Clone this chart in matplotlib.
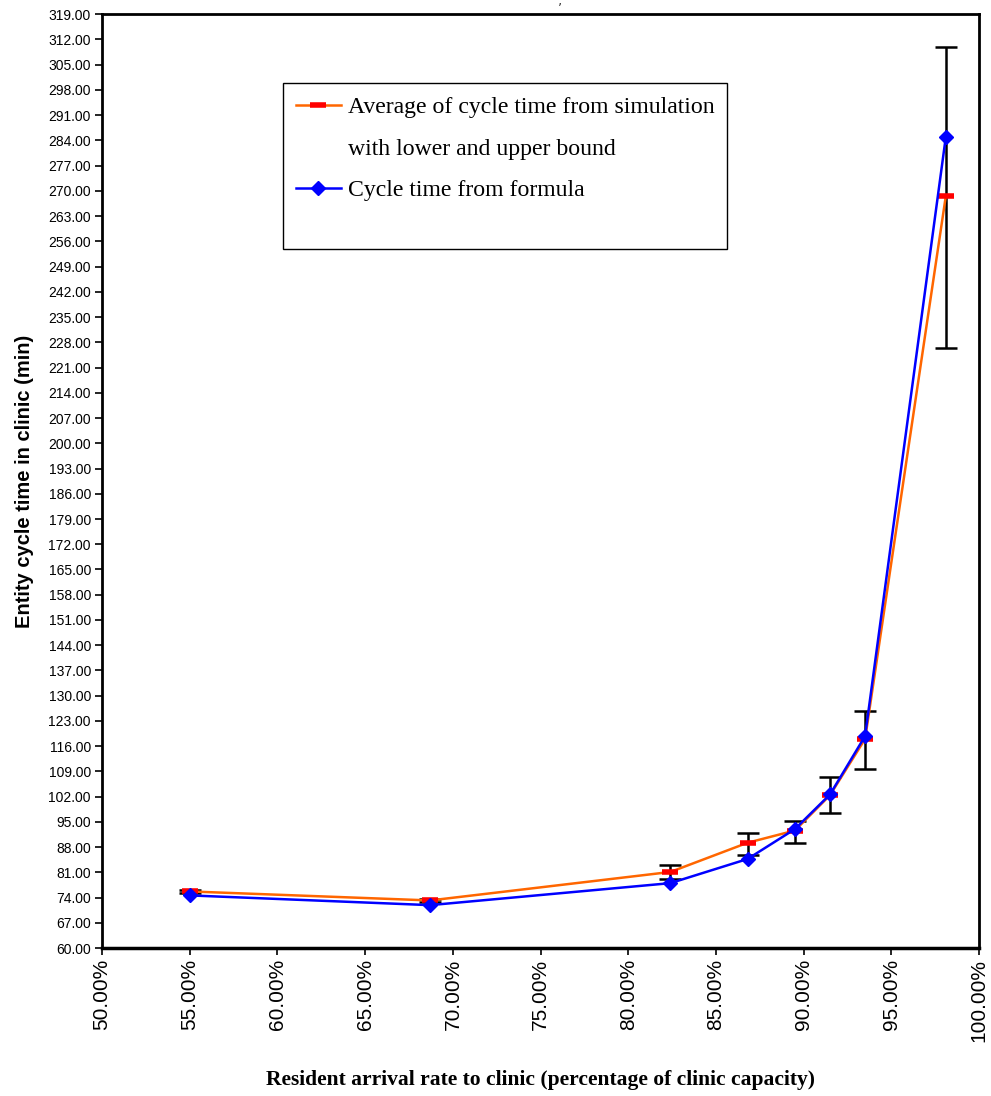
import matplotlib
matplotlib.use("Agg")
from matplotlib import pyplot as plt
from matplotlib.ticker import FuncFormatter
from matplotlib.patches import Rectangle
from matplotlib.lines import Line2D
import numpy as np

# arrival rate (% of clinic capacity)
arrival_rate = [55.0, 68.7, 82.4, 86.8, 89.5, 91.5, 93.5, 98.1]
# simulation average cycle time and its bounds (min)
sim_avg = [75.7, 73.2, 81.1, 89.2, 92.6, 102.4, 118.0, 268.5]
sim_low = [75.3, 72.9, 79.2, 85.8, 89.1, 97.4, 109.6, 226.5]
sim_high = [76.1, 73.5, 83.0, 91.9, 95.2, 107.4, 125.7, 309.9]
# cycle time from formula (min)
formula_ct = [74.6, 71.9, 78.0, 84.7, 93.0, 102.6, 118.8, 284.9]

x_label = "Resident arrival rate to clinic (percentage of clinic capacity)"
y_label = "Entity cycle time in clinic (min)"
leg_sim_1 = "Average of cycle time from simulation"
leg_sim_2 = "with lower and upper bound"
leg_formula = "Cycle time from formula"

fig = plt.figure(figsize=(9.91, 10.96), dpi=100)
ax = fig.add_axes([0.103, 0.135, 0.885, 0.852])

x = np.array(arrival_rate)
avg = np.array(sim_avg)
yerr = [avg - np.array(sim_low), np.array(sim_high) - avg]

# error bars only
ax.errorbar(x, avg, yerr=yerr, fmt="none", ecolor="black", elinewidth=1.8,
            capsize=8, capthick=1.8, zorder=2)
sim_line, = ax.plot(x, avg, color="#ff6600", lw=1.8, marker="_", markersize=11,
                    mec="red", mew=4, zorder=3)
form_line, = ax.plot(x, formula_ct, color="blue", lw=1.8, marker="D", markersize=7,
                     mfc="blue", mec="blue", zorder=4)

ax.set_xlim(50, 100)
ax.set_ylim(60, 319)
ax.set_xticks(np.arange(50, 100.1, 5))
ax.set_yticks(np.arange(60, 320, 7))
ax.xaxis.set_major_formatter(FuncFormatter(lambda v, p: "%.2f%%" % v))
ax.yaxis.set_major_formatter(FuncFormatter(lambda v, p: "%.2f" % v))

for lab in ax.get_yticklabels():
    lab.set_fontfamily(["Liberation Sans Narrow", "Liberation Sans", "DejaVu Sans"])
    lab.set_fontsize(10)
for lab in ax.get_xticklabels():
    lab.set_fontfamily(["Liberation Sans", "DejaVu Sans"])
    lab.set_fontsize(15)
    lab.set_rotation(90)

ax.tick_params(axis="both", direction="out", length=5, width=1.2, colors="black", pad=3)
for s in ax.spines.values():
    s.set_linewidth(2)
ax.spines["bottom"].set_linewidth(2.5)

ax.set_xlabel(x_label, family=["Liberation Serif", "DejaVu Serif"], fontweight="bold",
              fontsize=15.5, labelpad=20)
ax.set_ylabel(y_label, family=["Liberation Sans", "DejaVu Sans"], fontweight="bold",
              fontsize=14.5, labelpad=10)

# legend box
ax.add_patch(Rectangle((0.206, 0.749), 0.506, 0.177, transform=ax.transAxes,
                       facecolor="white", edgecolor="black", lw=1.0, zorder=5))
blank = Line2D([], [], color="none")
leg = ax.legend([sim_line, blank, form_line], [leg_sim_1, leg_sim_2, leg_formula],
                loc="upper left", bbox_to_anchor=(0.206, 0.926), frameon=False,
                borderaxespad=0, borderpad=0.55, handlelength=1.9, handletextpad=0.3,
                labelspacing=0.84,
                prop={"family": ["Liberation Serif", "DejaVu Serif"], "size": 17.1})
leg.set_zorder(6)

# remnant of the cut off title at the top edge
fig.text(0.565, 1.0, ",", ha="center", va="center", fontsize=10, color="#444444")

fig.savefig("out.png", dpi=100)
